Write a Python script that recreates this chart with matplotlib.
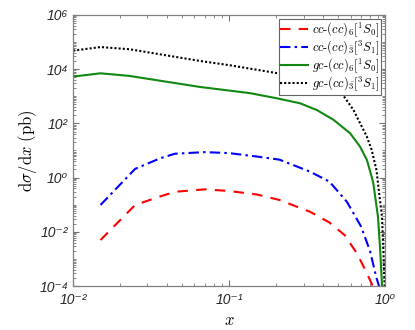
import numpy as np
import matplotlib
matplotlib.use("Agg")
import matplotlib.pyplot as plt
from matplotlib.ticker import FixedLocator, FuncFormatter, NullFormatter

# Data (x, dsigma/dx in pb)
x_red = [0.015, 0.025, 0.036, 0.045, 0.07, 0.1, 0.15, 0.21, 0.33, 0.44, 0.55, 0.66, 0.76, 0.84]
y_red = [5.0e-3, 9.8e-2, 0.20, 0.30, 0.37, 0.32, 0.24, 0.15, 0.055, 0.022, 7.6e-3, 1.6e-3, 3.2e-4, 9e-5]

x_blue = [0.015, 0.025, 0.036, 0.045, 0.07, 0.1, 0.15, 0.21, 0.33, 0.44, 0.57, 0.70, 0.80, 0.88, 0.95]
y_blue = [0.098, 2.1, 5.1, 7.6, 8.7, 8.0, 6.0, 4.6, 1.66, 0.71, 0.126, 0.016, 2.0e-3, 2.0e-4, 5e-5]

x_green = [0.01, 0.015, 0.023, 0.065, 0.136, 0.2, 0.285, 0.365, 0.467, 0.597, 0.69, 0.764, 0.82,
           0.84, 0.90, 0.93, 0.96]
y_green = [5.3e3, 7.0e3, 5.6e3, 2.2e3, 1.3e3, 850, 550, 310, 135, 43, 14, 4.5, 1.07,
           0.62, 0.036, 2.1e-3, 6e-5]

x_black = [0.01, 0.015, 0.023, 0.065, 0.1, 0.2, 0.35, 0.51, 0.627, 0.764, 0.82, 0.88, 0.90,
           0.955, 0.98, 0.995]
y_black = [4.8e4, 6.5e4, 5.4e4, 2.0e4, 1.4e4, 7.2e3, 4.0e3, 1.7e3, 310, 32, 10.5, 1.9, 0.62,
           0.036, 1e-3, 6e-5]

labels = [r'$cc\text{-}(cc)_{\mathbf{6}}[{}^1S_0]$',
          r'$cc\text{-}(cc)_{\bar{\mathbf{3}}}[{}^3S_1]$',
          r'$gc\text{-}(cc)_{\mathbf{6}}[{}^1S_0]$',
          r'$gc\text{-}(cc)_{\bar{\mathbf{3}}}[{}^3S_1]$']

plt.rcParams['mathtext.fontset'] = 'cm'
plt.rcParams['font.family'] = ['Liberation Sans', 'DejaVu Sans']
plt.rcParams['font.style'] = 'italic'

fig = plt.figure(figsize=(4.15, 3.3), dpi=100)
ax = fig.add_axes([0.176, 0.133, 0.752, 0.822])

ax.plot(x_red, y_red, color='red', ls=(0, (5, 4)), lw=1.5, label=labels[0])
ax.plot(x_blue, y_blue, color='blue', ls=(0, (5, 2, 1.2, 2)), lw=1.5, label=labels[1])
ax.plot(x_green, y_green, color='#118811', ls='-', lw=1.5, label=labels[2])
ax.plot(x_black, y_black, color='black', ls=(0, (1, 1)), lw=1.5, label=labels[3])

ax.set_xscale('log')
ax.set_yscale('log')
ax.set_xlim(1e-2, 1e0)
ax.set_ylim(1e-4, 1e6)

sup = str.maketrans('-0123456789', '⁻⁰¹²³⁴⁵⁶⁷⁸⁹')
fmt = FuncFormatter(lambda v, p: '10' + str(int(round(np.log10(v)))).translate(sup))

ax.xaxis.set_major_locator(FixedLocator([1e-2, 1e-1, 1e0]))
ax.yaxis.set_major_locator(FixedLocator([10.0 ** k for k in range(-4, 7, 2)]))
minors_x = [m * 10.0 ** k for k in range(-2, 0) for m in range(2, 10)]
minors_y = [m * 10.0 ** k for k in range(-4, 6) for m in range(1, 10) if not (m == 1 and k % 2 == 0)]
ax.xaxis.set_minor_locator(FixedLocator(minors_x))
ax.yaxis.set_minor_locator(FixedLocator(minors_y))
ax.xaxis.set_major_formatter(fmt)
ax.yaxis.set_major_formatter(fmt)
ax.xaxis.set_minor_formatter(NullFormatter())
ax.yaxis.set_minor_formatter(NullFormatter())

ax.tick_params(which='both', direction='in', top=True, right=True, colors='0.45',
               labelcolor='0.15', labelsize=10)
ax.tick_params(which='major', length=4, width=0.8)
ax.tick_params(which='minor', length=2, width=0.6)
ax.tick_params(axis='x', pad=5)
for s in ax.spines.values():
    s.set_color('0.5')
    s.set_linewidth(0.9)

ax.set_xlabel(r'$x$', fontsize=12, labelpad=4)
ax.set_ylabel(r'$\mathrm{d}\sigma/\mathrm{d}x\ \mathrm{(pb)}$', fontsize=12, labelpad=0)

leg = ax.legend(loc='upper right', fontsize=9, fancybox=False, framealpha=1,
                edgecolor='0.4', handlelength=2.2, handletextpad=0.3, borderpad=0.15,
                labelspacing=-0.05, borderaxespad=0.3)
leg.get_frame().set_linewidth(0.8)

fig.savefig('out.png', dpi=100)
